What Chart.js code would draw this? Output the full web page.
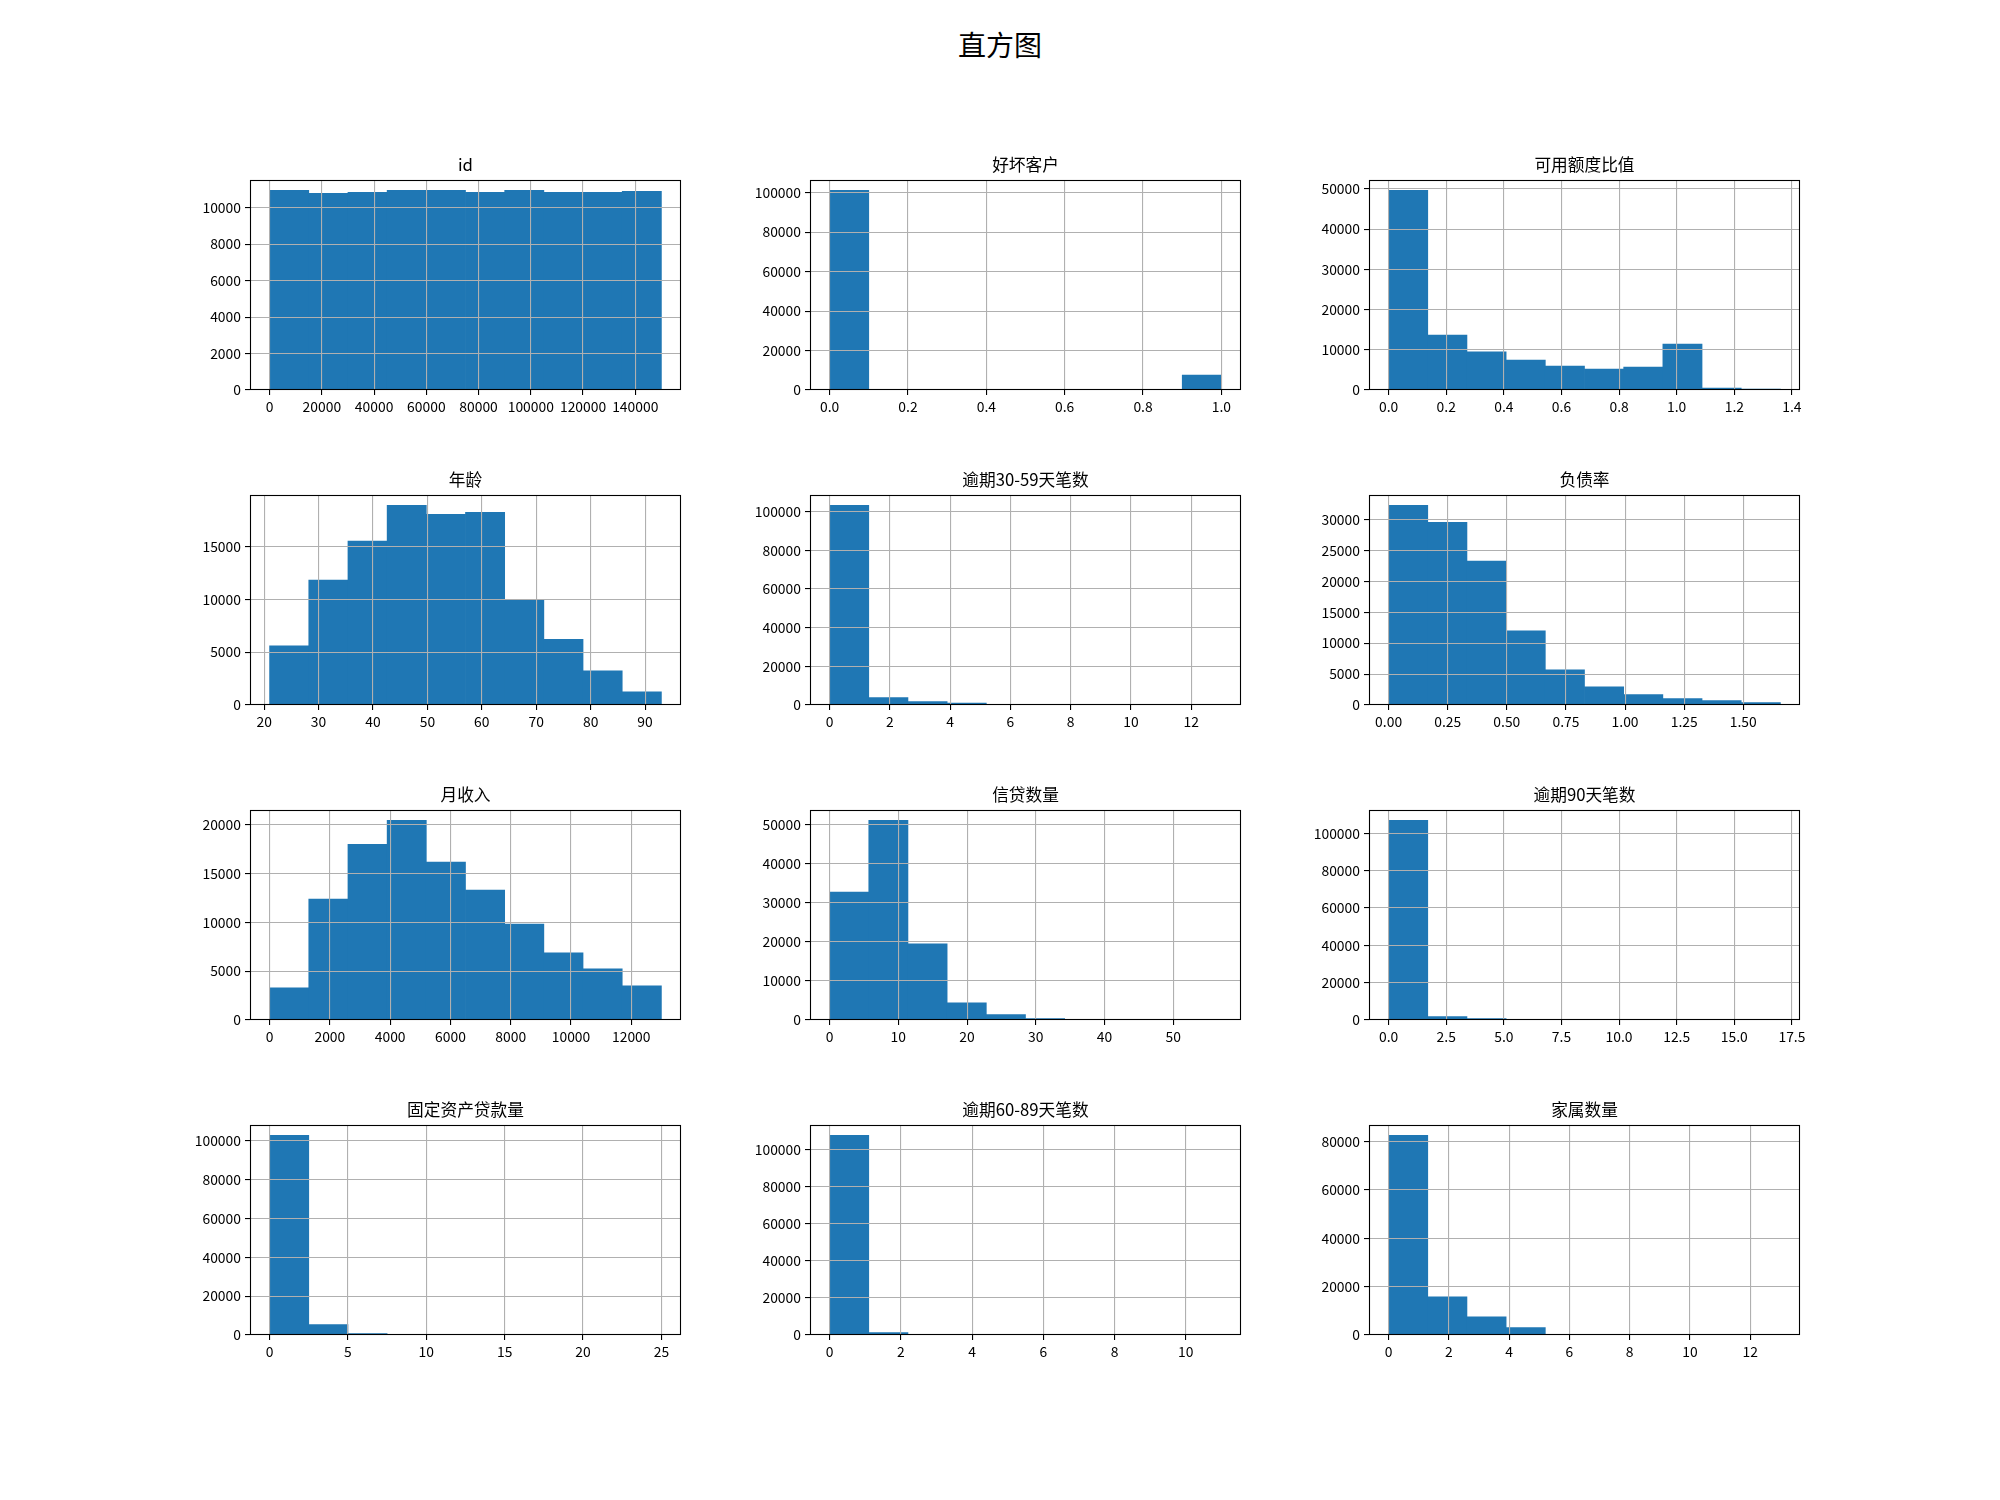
<!DOCTYPE html>
<html><head><meta charset="utf-8">
<script src="https://cdn.jsdelivr.net/npm/chart.js@4/dist/chart.umd.min.js"></script>
<style>
html,body{margin:0;padding:0;background:#fff;}
#fig{position:relative;width:2000px;height:1500px;background:#fff;overflow:hidden;}
.box{position:absolute;}
.ttl{position:absolute;text-align:center;font-family:"Noto Sans CJK SC",sans-serif;color:#000;white-space:nowrap;}
</style></head><body>
<div id="fig"><div class="ttl" style="left:0;width:2000px;top:30px;font-size:28px;line-height:28px;">直方图</div></div>
<script>
// ---- data ----
const titles = ["id","好坏客户","可用额度比值","年龄","逾期30-59天笔数","负债率","月收入","信贷数量","逾期90天笔数","固定资产贷款量","逾期60-89天笔数","家属数量"];

const idCounts          = [10949,10785,10839,10949,10949,10839,10949,10839,10839,10894];
const goodBadCounts     = [101180,0,0,0,0,0,0,0,0,7590];
const creditRatioCounts = [49668,13659,9520,7450,5960,5215,5712,11424,497,248];
const ageCounts         = [5597,11824,15503,18899,18050,18239,9937,6226,3239,1258];
const late3059Counts    = [103256,3780,1718,1031,100,40,27,3,1,2];
const debtRatioCounts   = [32312,29570,23280,11989,5699,2957,1667,1022,699,376];
const incomeCounts      = [3299,12381,17993,20442,16156,13299,9830,6871,5238,3503];
const creditLineCounts  = [32738,51105,19473,4422,1361,340,60,20,6,3];
const late90Counts      = [106940,1779,712,60,40,20,5,4,3,1];
const realEstateCounts  = [102735,5299,684,120,55,16,11,3,2,4];
const late6089Counts    = [107706,1254,231,76,25,12,7,1,1,1];
const dependentCounts   = [82612,15808,7560,3024,120,40,22,4,0,1];

// histogram range (min, max of each column)
const binLo = [1,0,0,21,0,0,0,0,0,0,0,0];
const binHi = [150000,1,1.36,93,13,1.657,13000,57,17,25,11,13];

// tick labels
const idXTicks = [0,20000,40000,60000,80000,100000,120000,140000];
const goodBadXTicks = [0,0.2,0.4,0.6,0.8,1.0];
const creditRatioXTicks = [0,0.2,0.4,0.6,0.8,1.0,1.2,1.4];
const ageXTicks = [20,30,40,50,60,70,80,90];
const late3059XTicks = [0,2,4,6,8,10,12];
const debtRatioXTicks = [0,0.25,0.5,0.75,1.0,1.25,1.5];
const incomeXTicks = [0,2000,4000,6000,8000,10000,12000];
const creditLineXTicks = [0,10,20,30,40,50];
const late90XTicks = [0,2.5,5,7.5,10,12.5,15,17.5];
const realEstateXTicks = [0,5,10,15,20,25];
const late6089XTicks = [0,2,4,6,8,10];
const dependentXTicks = [0,2,4,6,8,10,12];
const xDecimals = [0,1,1,0,0,2,0,0,1,0,0,0];

const idYTicks = [0,2000,4000,6000,8000,10000];
const goodBadYTicks = [0,20000,40000,60000,80000,100000];
const creditRatioYTicks = [0,10000,20000,30000,40000,50000];
const ageYTicks = [0,5000,10000,15000];
const late3059YTicks = [0,20000,40000,60000,80000,100000];
const debtRatioYTicks = [0,5000,10000,15000,20000,25000,30000];
const incomeYTicks = [0,5000,10000,15000,20000];
const creditLineYTicks = [0,10000,20000,30000,40000,50000];
const late90YTicks = [0,20000,40000,60000,80000,100000];
const realEstateYTicks = [0,20000,40000,60000,80000,100000];
const late6089YTicks = [0,20000,40000,60000,80000,100000];
const dependentYTicks = [0,20000,40000,60000,80000];

const allCounts = [idCounts,goodBadCounts,creditRatioCounts,ageCounts,late3059Counts,debtRatioCounts,incomeCounts,creditLineCounts,late90Counts,realEstateCounts,late6089Counts,dependentCounts];
const allXTicks = [idXTicks,goodBadXTicks,creditRatioXTicks,ageXTicks,late3059XTicks,debtRatioXTicks,incomeXTicks,creditLineXTicks,late90XTicks,realEstateXTicks,late6089XTicks,dependentXTicks];
const allYTicks = [idYTicks,goodBadYTicks,creditRatioYTicks,ageYTicks,late3059YTicks,debtRatioYTicks,incomeYTicks,creditLineYTicks,late90YTicks,realEstateYTicks,late6089YTicks,dependentYTicks];

// ---- layout ----
const COL_LEFT = [250,810,1369], ROW_TOP = [180,495,810,1125], AX_W = 431, AX_H = 210;
const PAD_L = 100, PAD_T = 12, PAD_R = 30, PAD_B = 40;
const FONT = '"Noto Sans CJK SC", sans-serif';

const frame = {id:'frame', afterDraw(chart){
  const {ctx, chartArea:a} = chart;
  ctx.save(); ctx.strokeStyle = '#000'; ctx.lineWidth = 1.1;
  const l = Math.round(a.left)+0.5, t = Math.round(a.top)+0.5, r = Math.round(a.right)-0.5, b = Math.round(a.bottom)-0.5;
  ctx.strokeRect(l, t, r-l, b-t);
  ctx.restore();
}};

const fig = document.getElementById('fig');
for (let k = 0; k < 12; k++) {
  const r = Math.floor(k/3), c = k%3;
  const W = AX_W + PAD_L + PAD_R, H = AX_H + PAD_T + PAD_B;
  const box = document.createElement('div');
  box.className = 'box';
  box.style.left = (COL_LEFT[c]-PAD_L)+'px'; box.style.top = (ROW_TOP[r]-PAD_T)+'px';
  box.style.width = W+'px'; box.style.height = H+'px';
  const cv = document.createElement('canvas');
  cv.width = W; cv.height = H; cv.style.width = W+'px'; cv.style.height = H+'px';
  box.appendChild(cv); fig.appendChild(box);

  const t = document.createElement('div');
  t.className = 'ttl'; t.textContent = titles[k];
  t.style.left = COL_LEFT[c]+'px'; t.style.width = AX_W+'px';
  t.style.top = (ROW_TOP[r]-24)+'px'; t.style.fontSize = '16.7px'; t.style.lineHeight = '17px';
  fig.appendChild(t);

  const counts = allCounts[k], lo = binLo[k], hi = binHi[k], n = counts.length;
  const w = (hi-lo)/n, span = hi-lo;
  const pts = counts.map((v,i)=>({x: lo+(i+0.5)*w, y: v}));
  const xt = allXTicks[k], yt = allYTicks[k], dec = xDecimals[k];
  const gridOpt = {display:true, offset:false, color:'#b0b0b0', lineWidth:1.1, drawTicks:true, tickLength:5, tickColor:'#000', tickWidth:1.1, z:1};
  const tickFont = {family: FONT, size: 13.9};
  new Chart(cv, {
    type:'bar',
    data:{datasets:[{data:pts, backgroundColor:'#1f77b4', borderWidth:0, barPercentage:1, categoryPercentage:1}]},
    options:{
      responsive:false, animation:false, events:[], devicePixelRatio:1,
      layout:{padding:{left:0, top:PAD_T, right:PAD_R, bottom:0}},
      plugins:{legend:{display:false}, tooltip:{enabled:false}, title:{display:false}},
      scales:{
        x:{type:'linear', offset:false, min: lo-0.05*span, max: hi+0.05*span,
           afterBuildTicks: s=>{ s.ticks = xt.map(v=>({value:v})); },
           afterFit: s=>{ s.height = PAD_B; },
           grid: gridOpt, border:{display:false},
           ticks:{color:'#000', font:tickFont, padding:3, maxRotation:0, autoSkip:false, callback: v=>Number(v).toFixed(dec)}},
        y:{type:'linear', min:0, max: Math.max(...counts)*1.05,
           afterBuildTicks: s=>{ s.ticks = yt.map(v=>({value:v})); },
           afterFit: s=>{ s.width = PAD_L; },
           grid: gridOpt, border:{display:false},
           ticks:{color:'#000', font:tickFont, padding:4, autoSkip:false, callback: v=>String(Math.round(v))}}
      }
    },
    plugins:[frame]
  });
}
</script>
</body></html>
